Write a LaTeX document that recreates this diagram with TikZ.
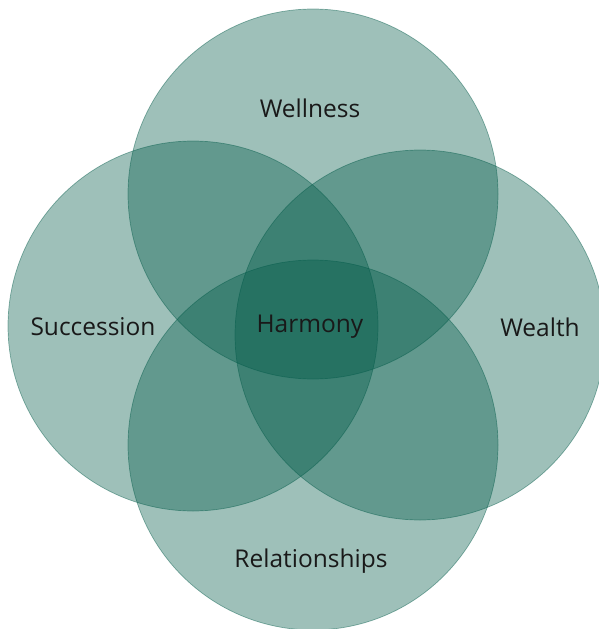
\documentclass[tikz,border=0pt]{standalone}
\usepackage{fontspec}
\setmainfont{Open Sans}
\definecolor{petalgreen}{RGB}{0,89,71}
\begin{document}
\begin{tikzpicture}[x=1pt,y=-1pt,
		petal/.style={fill=petalgreen, fill opacity=0.38, draw=petalgreen, draw opacity=0.45, line width=0.7pt},
		label/.style={font=\fontsize{24.5}{28}\selectfont, text=black!90}]
				\useasboundingbox (0,0) rectangle (598,629);
				\coordinate (Wl) at (313,194);
				\coordinate (Su) at (193,326);
				\coordinate (We) at (420,335);
				\coordinate (Re) at (313,445);
				\filldraw[petal] (Wl) circle(185pt);
				\filldraw[petal] (Su) circle(185pt);
				\filldraw[petal] (We) circle(185pt);
				\filldraw[petal] (Re) circle(185pt);
				\node[label] (wellness) at (310,108) {Wellness};
				\node[label] (succession) at (93,327) {Succession};
				\node[label] (harmony) at (310,327) {Harmony};
				\node[label] (wealth) at (540,327) {Wealth};
				\node[label] (relationships) at (311,561) {Relationships};
			\end{tikzpicture}
\end{document}
